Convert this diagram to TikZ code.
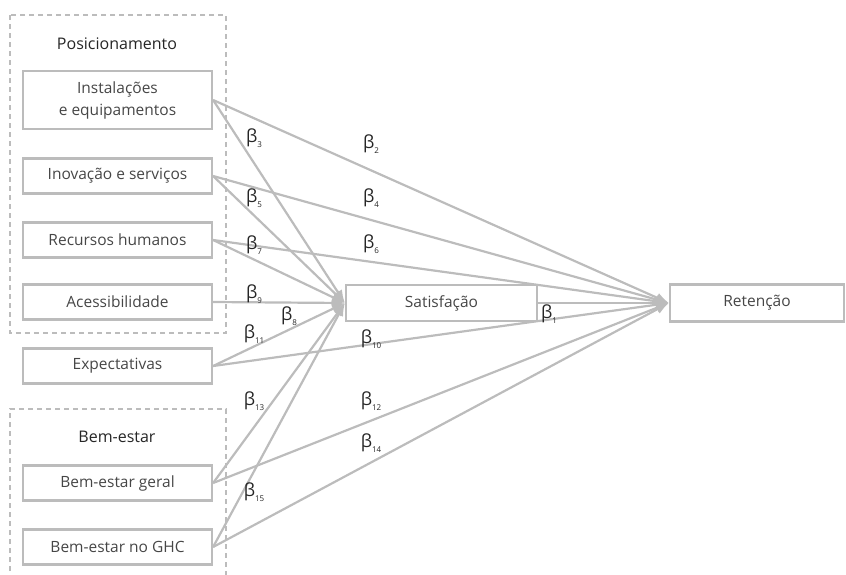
\documentclass[tikz,border=0pt]{standalone}
\usepackage{fontspec}
\setmainfont{Open Sans}
\usetikzlibrary{arrows.meta}
\definecolor{linegray}{RGB}{188,188,188}
\definecolor{textgray}{RGB}{70,70,70}

\begin{document}
\begin{tikzpicture}[x=1pt, y=-1pt,
    box/.style={draw=linegray, line width=2.2pt, minimum width=189pt, minimum height=35pt, inner sep=0pt, text=textgray, font=\fontsize{15.5}{22}\selectfont, align=center},
    arrow/.style={draw=linegray, line width=2.2pt, -{Latex[length=13pt,width=10pt]}},
    group/.style={draw=linegray, line width=2pt, dash pattern=on 5pt off 4pt},
    title/.style={text=black!85, font=\fontsize{16}{19}\selectfont},
    coef/.style={text=black!85, font=\fontsize{18}{20}\selectfont, inner sep=0pt}]
  \useasboundingbox (0,0) rectangle (846,574);

  % Dashed groups
  \draw[group] (10,15) rectangle (226,333);
  \draw[group] (10,580) -- (10,409) -- (226,409) -- (226,580);
  \node[title] (tpos) at (117,44) {Posicionamento};
  \node[title] (tbem) at (117,437) {Bem-estar};

  % Antecedents
  \node[box, minimum height=58pt] (inst) at (117.5,100) {Instalações\\e equipamentos};
  \node[box] (inov) at (117.5,176) {Inovação e serviços};
  \node[box] (rec) at (117.5,240) {Recursos humanos};
  \node[box] (aces) at (117.5,302) {Acessibilidade};
  \node[box] (expe) at (117.5,366) {Expectativas};
  \node[box] (bgeral) at (117.5,483) {Bem-estar geral};
  \node[box] (bghc) at (117.5,547) {Bem-estar no GHC};

  % Outcomes
  \node[box, minimum width=191pt, minimum height=36pt] (sat) at (441.5,303) {Satisfação};
  \node[box, minimum width=174pt, minimum height=37pt] (ret) at (757,303) {Retenção};

  % Paths to satisfaction and retention
  \foreach \s in {inst,inov,rec,aces,expe,bgeral,bghc}
    \draw[arrow] (\s.east) -- (sat.west);
  \foreach \s in {inst,inov,rec,expe,bgeral,bghc,sat}
    \draw[arrow] (\s.east) -- (ret.west);

  % Coefficients
  \foreach \k/\x/\y in {1/549/314, 2/371/144, 3/254/138, 4/371/198, 5/254/198,
      6/371/244, 7/254/245, 8/289/316, 9/254/294, 10/371/339, 11/254/334,
      12/371/401, 13/254/401, 14/371/443, 15/254/492}
    \node[coef] (b\k) at (\x,\y) {β\raisebox{-5pt}{\fontsize{8}{9}\selectfont\k}};
\end{tikzpicture}
\end{document}
